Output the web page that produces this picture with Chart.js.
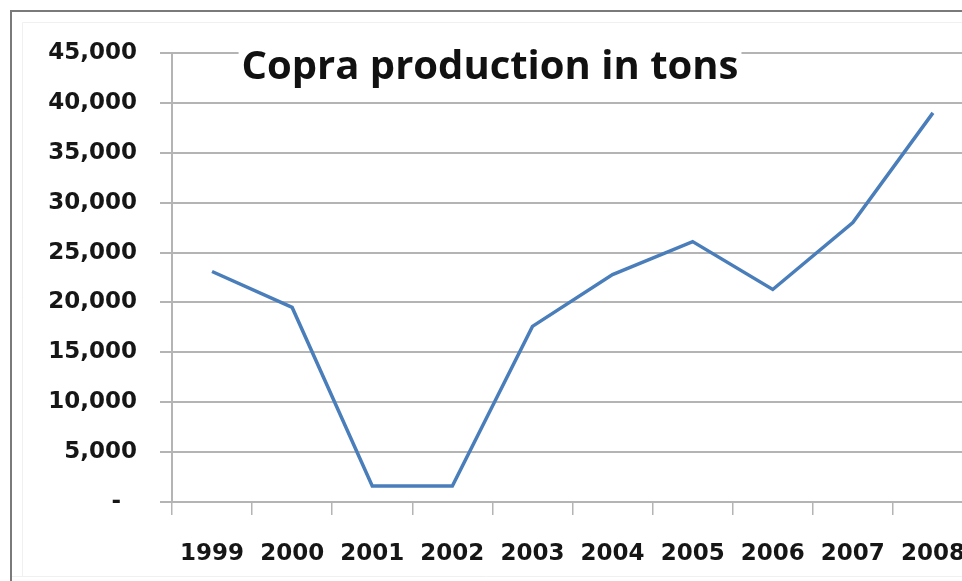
<!DOCTYPE html>
<html>
<head>
<meta charset="utf-8">
<title>Copra production in tons</title>
<script src="https://cdn.jsdelivr.net/npm/chart.js@4"></script>
<style>
  html, body { margin: 0; padding: 0; background: #fff; overflow: hidden; }
  #wrap { width: 962px; height: 581px; overflow: hidden; position: relative; }
  canvas { display: block; }
</style>
</head>
<body>
<div id="wrap"><canvas id="c" width="1000" height="581"></canvas></div>
<script>
var years = ['1999', '2000', '2001', '2002', '2003', '2004', '2005', '2006', '2007', '2008'];
var copraTons = [23100, 19500, 1600, 1600, 17600, 22800, 26100, 21300, 28000, 39000];
var yTicks = [0, 5000, 10000, 15000, 20000, 25000, 30000, 35000, 40000, 45000];

var chartTitle = 'Copra production in tons';
var gridColor = '#b4b4b4';
var tickFont = { family: 'DejaVu Sans', weight: 'bold', size: 23 };

// frame round the chart, plus the title sitting inside the plot area
var frame = {
	id: 'frame',
	beforeDraw: function(chart){
		var ctx = chart.ctx;
		ctx.save();
		ctx.fillStyle = '#fff';
		ctx.fillRect(0, 0, chart.width, chart.height);
		ctx.strokeStyle = '#f0f0f0';
		ctx.lineWidth = 1;
		ctx.beginPath();
		ctx.moveTo(22.5, 576);
		ctx.lineTo(22.5, 22.5);
		ctx.lineTo(962, 22.5);
		ctx.moveTo(11, 576.5);
		ctx.lineTo(962, 576.5);
		ctx.stroke();
		ctx.strokeStyle = '#7a7a7a';
		ctx.lineWidth = 2;
		ctx.beginPath();
		ctx.moveTo(11, 581);
		ctx.lineTo(11, 11);
		ctx.lineTo(962, 11);
		ctx.stroke();
		ctx.restore();
	},
	afterDraw: function(chart){
		var ctx = chart.ctx;
		ctx.save();
		ctx.font = 'bold 40px "Open Sans"';
		var w = ctx.measureText(chartTitle).width;
		var cx = 490;
		ctx.fillStyle = '#fff';
		ctx.fillRect(cx - w / 2 - 3, 42, w + 6, 24);
		ctx.fillStyle = '#111';
		ctx.textAlign = 'center';
		ctx.textBaseline = 'alphabetic';
		ctx.fillText(chartTitle, cx, 79);
		ctx.restore();
	}
};

new Chart(document.getElementById('c'), {
	type: 'line',
	data: {
		labels: years,
		datasets: [{
			label: chartTitle,
			data: copraTons,
			borderColor: '#4a7ebb',
			borderWidth: 3.5,
			pointRadius: 0,
			tension: 0,
			fill: false
		}]
	},
	options: {
		responsive: false,
		animation: false,
		layout: { padding: { top: 53, right: 27, left: 0, bottom: 0 } },
		plugins: {
			legend: { display: false },
			title: { display: false },
			tooltip: { enabled: false }
		},
		scales: {
			x: {
				offset: true,
				grid: { offset: true, drawOnChartArea: false, tickLength: 13, color: gridColor, lineWidth: 1.5 },
				border: { color: gridColor, width: 2 },
				ticks: { font: tickFont, color: '#161616', padding: 25, maxRotation: 0 },
				afterFit: function(scale){ scale.height = 79; }
			},
			y: {
				min: 0,
				max: 45000,
				afterBuildTicks: function(scale){
					scale.ticks = yTicks.map(function(v){ return { value: v }; });
				},
				grid: { color: gridColor, lineWidth: 2, tickLength: 12 },
				border: { color: gridColor, width: 2 },
				ticks: {
					font: tickFont,
					color: '#161616',
					padding: 23,
					callback: function(v){
						return v === 0 ? '-  ' : v.toLocaleString('en-US');
					}
				},
				afterFit: function(scale){ scale.width = 172; }
			}
		}
	},
	plugins: [frame]
});
</script>
</body>
</html>
